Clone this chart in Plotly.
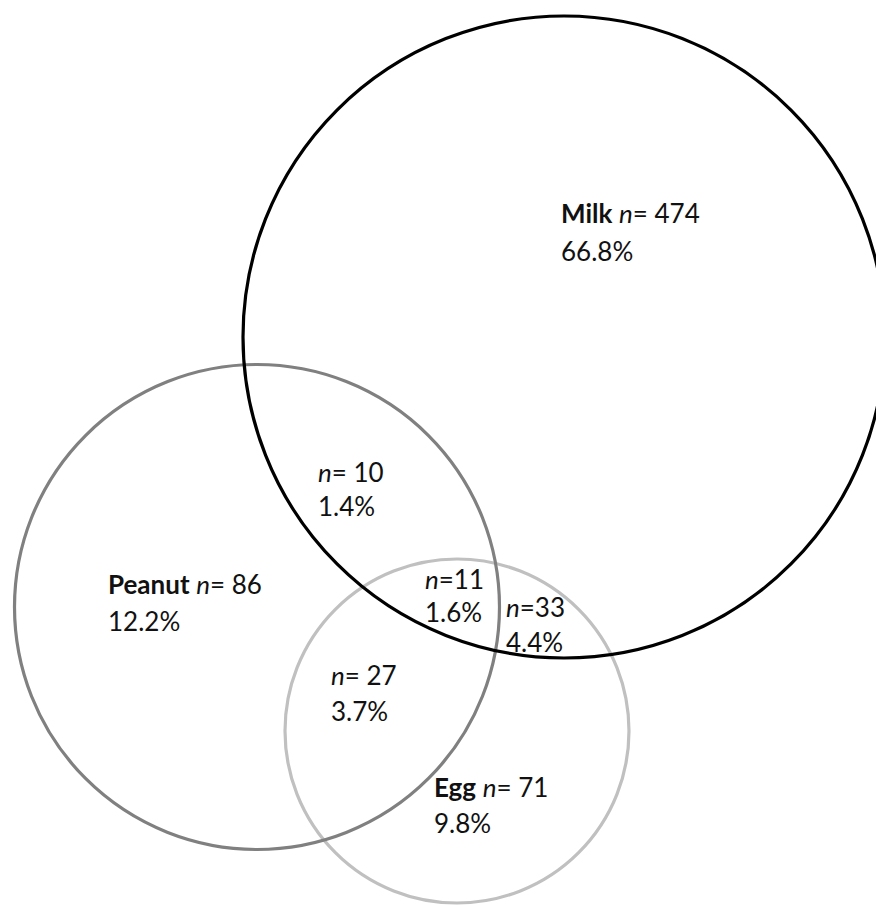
import plotly.graph_objects as go

# ---- data ----
set_names = ["Milk", "Peanut", "Egg"]
set_counts = [474, 86, 71]
set_pcts = ["66.8%", "12.2%", "9.8%"]

overlap_names = ["Milk∩Peanut", "Milk∩Peanut∩Egg", "Milk∩Egg", "Peanut∩Egg"]
overlap_counts = [10, 11, 33, 27]
overlap_pcts = ["1.4%", "1.6%", "4.4%", "3.7%"]
overlap_sep = ["= ", "=", "=", "= "]

# ---- layout geometry (pixels) ----
W, H = 876, 905
circles = {  # cx, cy, r, colour
    "Milk": (564, 337, 321, "#000000"),
    "Peanut": (257, 607, 242.5, "#808080"),
    "Egg": (457, 731, 172, "#c0c0c0"),
}
set_label_pos = {"Milk": (559, 213, 251), "Peanut": (106, 584, 621), "Egg": (432, 787, 823)}
overlap_label_pos = [(316, 472, 506), (423, 579, 612), (504, 607, 642), (329, 675, 711)]

FONT = dict(family="Lato, 'Open Sans', sans-serif", size=26, color="#111111")

fig = go.Figure()
fig.add_trace(go.Scatter(x=[0, W], y=[0, H], mode="markers",
                         marker=dict(opacity=0), hoverinfo="skip", showlegend=False))

shapes = []
for name in ["Egg", "Peanut", "Milk"]:
    cx, cy, r, col = circles[name]
    shapes.append(dict(type="circle", xref="x", yref="y",
                       x0=cx - r, x1=cx + r, y0=cy - r, y1=cy + r,
                       line=dict(color=col, width=3.2), fillcolor="rgba(0,0,0,0)",
                       layer="above"))

annotations = []
for name, cnt, pct in zip(set_names, set_counts, set_pcts):
    x, y1, y2 = set_label_pos[name]
    annotations.append(dict(x=x, y=y1, xref="x", yref="y", xanchor="left", yanchor="middle",
                            text=f"<b>{name}</b> <i>n</i>= {cnt}", showarrow=False, font=FONT))
    annotations.append(dict(x=x, y=y2, xref="x", yref="y", xanchor="left", yanchor="middle",
                            text=pct, showarrow=False, font=FONT))
for (x, y1, y2), cnt, pct, sep in zip(overlap_label_pos, overlap_counts, overlap_pcts, overlap_sep):
    annotations.append(dict(x=x, y=y1, xref="x", yref="y", xanchor="left", yanchor="middle",
                            text=f"<i>n</i>{sep}{cnt}", showarrow=False, font=FONT))
    annotations.append(dict(x=x, y=y2, xref="x", yref="y", xanchor="left", yanchor="middle",
                            text=pct, showarrow=False, font=FONT))

fig.update_layout(
    width=W, height=H, margin=dict(l=0, r=0, t=0, b=0),
    paper_bgcolor="white", plot_bgcolor="white",
    xaxis=dict(range=[0, W], visible=False, fixedrange=True),
    yaxis=dict(range=[H, 0], visible=False, fixedrange=True),
    shapes=shapes, annotations=annotations, showlegend=False,
)

fig.write_html("out.html", config={"displayModeBar": False},
               post_script="document.body.style.margin='0';document.body.style.overflow='hidden';")
